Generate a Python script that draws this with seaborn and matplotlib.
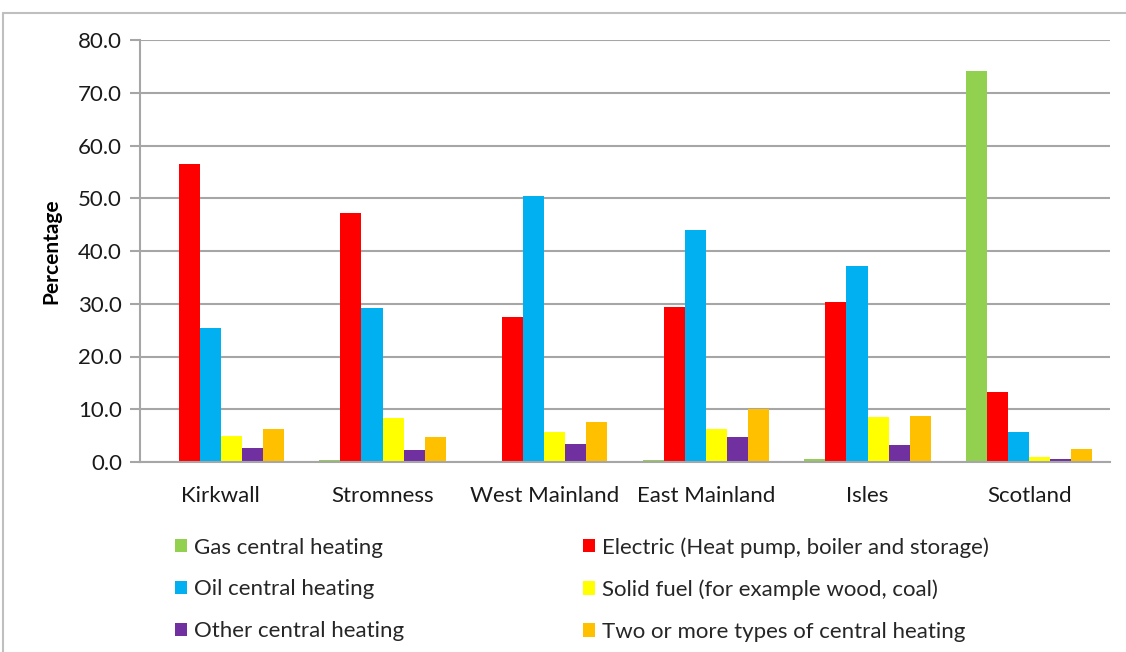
import pandas as pd
import matplotlib
matplotlib.use("Agg")
import matplotlib.pyplot as plt
from matplotlib.patches import Patch
from matplotlib.lines import Line2D
import seaborn as sns

# --- Data ---
areas = ["Kirkwall", "Stromness", "West Mainland", "East Mainland", "Isles", "Scotland"]
heating_types = [
    "Gas central heating",
    "Electric (Heat pump, boiler and storage)",
    "Oil central heating",
    "Solid fuel (for example wood, coal)",
    "Other central heating",
    "Two or more types of central heating",
]
gas = [0.2, 0.4, 0.2, 0.3, 0.6, 74.2]
electric = [56.5, 47.2, 27.5, 29.3, 30.3, 13.3]
oil = [25.4, 29.2, 50.4, 44.0, 37.2, 5.6]
solid = [4.9, 8.3, 5.6, 6.2, 8.5, 0.9]
other = [2.7, 2.3, 3.4, 4.7, 3.2, 0.5]
two_or_more = [6.3, 4.8, 7.5, 10.0, 8.7, 2.4]

colors = ["#92D050", "#FF0000", "#00B0F0", "#FFFF00", "#7030A0", "#FFC000"]

series = [gas, electric, oil, solid, other, two_or_more]
rows = []
for name, vals in zip(heating_types, series):
    for area, v in zip(areas, vals):
        rows.append({"Area": area, "Type": name, "Percentage": v})
df = pd.DataFrame(rows)

# --- Style ---
sns.set_theme(style="white")
plt.rcParams["font.family"] = ["Lato", "DejaVu Sans"]
grid_col = "#A6A6A6"
text_col = "#1a1a1a"

fig = plt.figure(figsize=(11.26, 6.52), dpi=100)
ax = fig.add_axes([140 / 1126, 1 - 462 / 652, (1110 - 140) / 1126, (462 - 40) / 652])

sns.barplot(data=df, x="Area", y="Percentage", hue="Type", order=areas,
            hue_order=heating_types, palette=colors, width=0.78,
            saturation=1, edgecolor="none", linewidth=0, ax=ax, legend=False)

ax.set_xlim(-0.5, 5.5)
ax.set_ylim(0, 80)
ax.set_yticks(range(0, 81, 10))
ax.set_yticklabels([f"{v:.1f}" for v in range(0, 81, 10)], fontsize=16, color=text_col)
ax.yaxis.grid(True, color=grid_col, linewidth=1.5)
ax.set_axisbelow(True)

ax.set_xticks(range(len(areas)))
ax.set_xticklabels(areas, fontsize=16, color=text_col)
ax.set_xticks([i - 0.5 for i in range(len(areas) + 1)], minor=True)
ax.tick_params(axis="x", which="major", length=0, pad=17)
ax.tick_params(axis="x", which="minor", length=7, width=1.5, color=grid_col, direction="out")
ax.tick_params(axis="y", length=7, width=1.5, color=grid_col, direction="out", pad=6, left=True)

for side in ["top", "right"]:
    ax.spines[side].set_visible(False)
for side in ["left", "bottom"]:
    ax.spines[side].set_color(grid_col)
    ax.spines[side].set_linewidth(1.5)

ax.set_xlabel("")
ax.set_ylabel("Percentage", fontsize=15, fontweight="bold", labelpad=12, color="black")

# legend laid out row by row (matplotlib fills columns first)
handles = [Patch(facecolor=c, edgecolor="none") for c in colors]
order = [0, 2, 4, 1, 3, 5]
fig.legend([handles[i] for i in order], [heating_types[i] for i in order],
           ncol=2, loc="upper left", bbox_to_anchor=(155 / 1126, 1 - 517 / 652),
           frameon=False, fontsize=16, handlelength=0.55, handleheight=0.55,
           handletextpad=0.3, labelspacing=0.98, columnspacing=8.05)

# outer chart frame (top and left edges visible)
frame_col = "#BFBFBF"
fig.add_artist(Line2D([3 / 1126, 1], [1 - 13 / 652, 1 - 13 / 652], color=frame_col, linewidth=1.5))
fig.add_artist(Line2D([3 / 1126, 3 / 1126], [0, 1 - 13 / 652], color=frame_col, linewidth=1.5))

fig.savefig("out.png", dpi=100)
